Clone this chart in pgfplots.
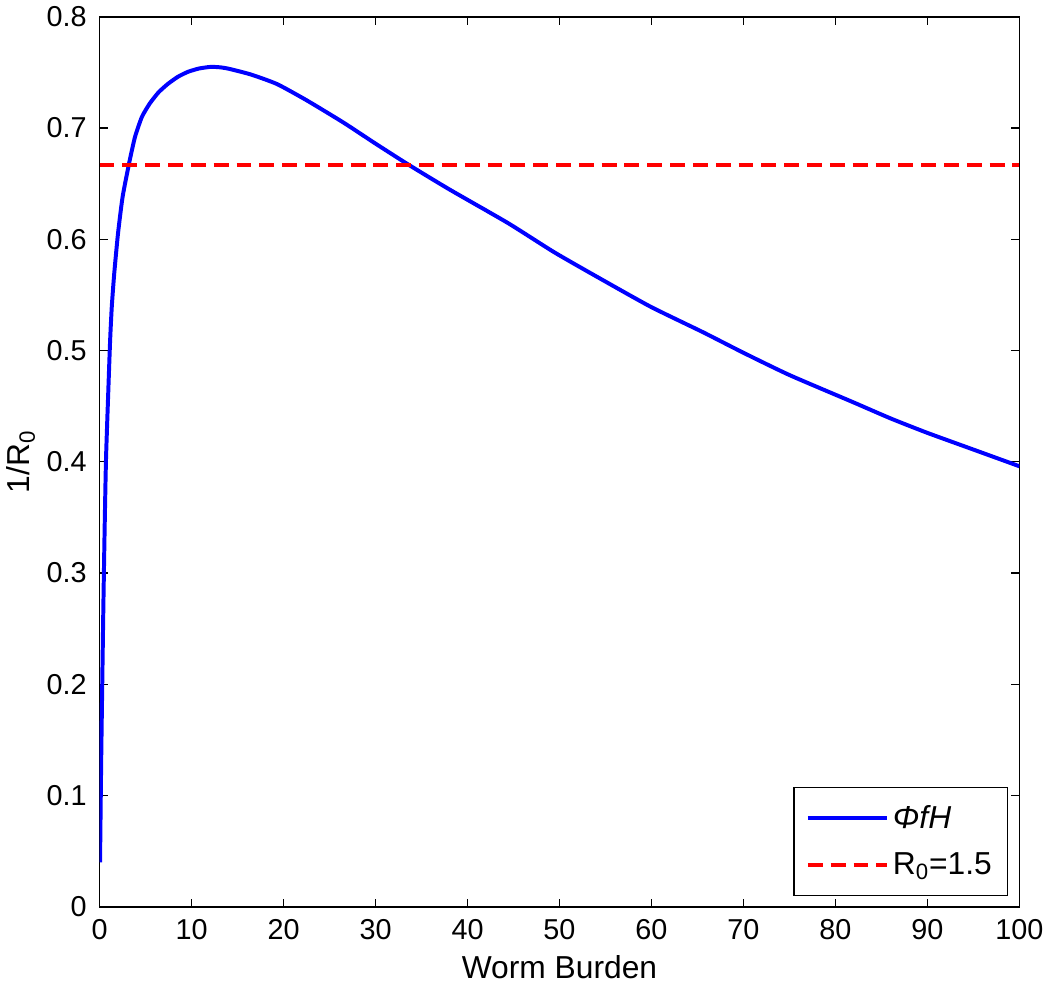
\documentclass[border=0pt]{standalone}
\usepackage{fontspec}
\setmainfont{Liberation Sans}
\usepackage{pgfplots}
\pgfplotsset{compat=1.18}

\begin{document}
\begin{tikzpicture}
\begin{axis}[
    scale only axis,
    width=463.5pt, height=448.5pt,
    xmin=0, xmax=100, ymin=0, ymax=0.8,
    xtick={0,10,...,100},
    ytick={0,0.1,...,0.8},
    yticklabel style={/pgf/number format/fixed, /pgf/number format/precision=1},
    /pgf/number format/assume math mode=true,
    tick align=inside,
    major tick length=4pt,
    axis line style={line width=0.8pt},
    every tick/.style={black, line width=0.6pt},
    tick label style={font=\fontsize{14.5}{16}\selectfont},
    xticklabel style={yshift=-3pt},
    yticklabel style={xshift=-3pt},
    label style={font=\fontsize{16}{18}\selectfont},
    xlabel={Worm Burden},
    ylabel={1/R\textsubscript{0}},
    xlabel style={yshift=-1pt},
    ylabel style={yshift=-1pt},
    legend cell align=left,
    legend style={at={(0.988,0.012)}, anchor=south east, draw=black,
        line width=0.6pt, font=\fontsize{16}{18}\selectfont,
        row sep=7pt, inner xsep=6pt, inner ysep=7pt},
    legend image code/.code={\draw[#1] (0cm,0cm) -- (1.4cm,0cm);},
]
\addplot[blue, line width=2pt, smooth, tension=0.35] coordinates {
    (0.05,0.04) (0.18,0.135) (0.4,0.264) (0.55,0.34) (0.7,0.403)
    (0.97,0.469) (1.15,0.51) (1.33,0.54) (1.6,0.57) (2,0.605)
    (2.5,0.638) (3.2,0.668) (3.85,0.692) (4.6,0.71) (5.45,0.722)
    (6.4,0.732) (7.4,0.7395) (8.5,0.746) (9.6,0.7505) (10.8,0.7535)
    (12.1,0.755) (13.2,0.7545) (14.2,0.753) (16.5,0.748) (19.3,0.7395)
    (22.5,0.725) (26.5,0.705) (30,0.686) (33.6,0.667) (38,0.645)
    (44.4,0.6146) (49.5,0.588) (55,0.562) (60,0.539) (65.6,0.5165)
    (70,0.498) (75,0.478) (81.8,0.454) (86,0.439) (90,0.426)
    (95,0.411) (100,0.396)
};
\addlegendentry{\textit{ΦfH}}
\addplot[red, line width=2pt, dash pattern=on 7.5pt off 4pt] coordinates {
    (0,0.6667) (100,0.6667)
};
\addlegendentry{R\textsubscript{0}=1.5}
\end{axis}
\end{tikzpicture}
\end{document}
